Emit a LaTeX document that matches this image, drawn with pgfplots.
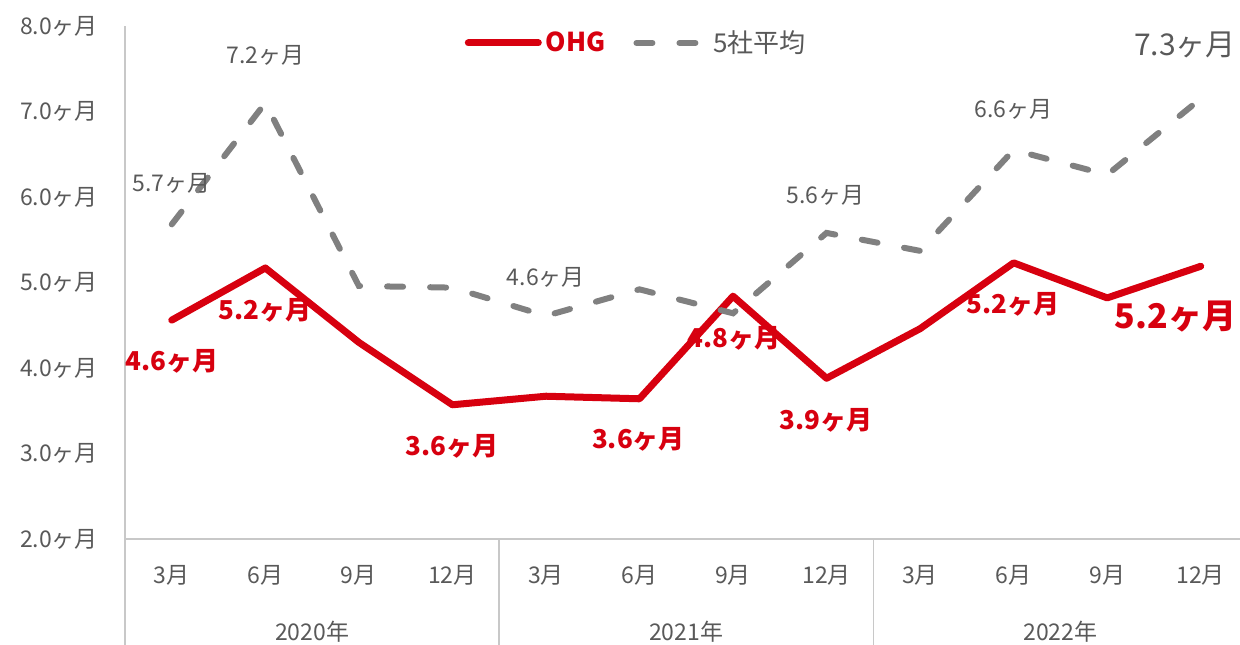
\documentclass[border=0pt]{standalone}
\usepackage{pgfplots}
\pgfplotsset{compat=1.18}
\usepackage{fontspec}
\setmainfont{Noto Sans CJK JP}
\definecolor{ohgred}{HTML}{D7000F}
\definecolor{avggray}{HTML}{808080}
\definecolor{txtgray}{HTML}{595959}
\definecolor{axgray}{HTML}{C8C8C8}
\begin{document}
\begin{tikzpicture}
\useasboundingbox (-62.5pt,-52.5pt) rectangle (557.5pt,269.5pt);
\begin{axis}[
  scale only axis,
  width=557.5pt, height=256.5pt,
  xmin=-0.5, xmax=11.42,
  ymin=2, ymax=8,
  clip=false,
  axis x line=bottom, axis y line=left,
  axis line style={draw=axgray, line width=0.8pt, -},
  major tick length=0pt,
  ytick={2,3,4,5,6,7,8},
  yticklabel={\pgfmathprintnumber[fixed,fixed zerofill,precision=1]{\tick}ヶ月},
  /pgf/number format/assume math mode=true,
  yticklabel style={font=\fontsize{11.5pt}{13pt}\selectfont, text=txtgray, anchor=east, xshift=-10pt},
  xtick={0,1,2,3,4,5,6,7,8,9,10,11},
  xticklabels={3月,6月,9月,12月,3月,6月,9月,12月,3月,6月,9月,12月},
  xticklabel style={font=\fontsize{11.5pt}{13pt}\selectfont, text=txtgray, anchor=center, yshift=-18pt},
  legend columns=2,
  legend style={at={(axis description cs:0.4595,0.967)}, anchor=center, draw=none, fill=none,
    font=\fontsize{13pt}{15pt}\selectfont,
    /tikz/every even column/.append style={column sep=12pt}},
  legend image code/.code={\draw[#1] (0pt,0pt) -- (35pt,0pt);},
]
\addplot[ohgred, line width=3.5pt, line join=round, line cap=round] coordinates {
 (0,4.56) (1,5.17) (2,4.30) (3,3.57) (4,3.67) (5,3.64) (6,4.84) (7,3.88) (8,4.46) (9,5.23) (10,4.82) (11,5.19)};
\addlegendentry{\textcolor{ohgred}{\bfseries OHG}}
\addplot[avggray, line width=3pt, line cap=round, dash pattern=on 8pt off 13.5pt] coordinates {
 (0,5.68) (1,7.10) (2,4.96) (3,4.94) (4,4.61) (5,4.92) (6,4.64) (7,5.58) (8,5.37) (9,6.55) (10,6.26) (11,7.15)};
\addlegendentry{\textcolor{txtgray}{5社平均}}

% gray labels
\begin{scope}[every node/.style={text=txtgray, font=\fontsize{11.5pt}{13pt}\selectfont}]
\node at (axis cs:1.0,7.66) {7.2ヶ月};
\node at (axis cs:0.0,6.16) {5.7ヶ月};
\node at (axis cs:4.0,5.06) {4.6ヶ月};
\node at (axis cs:6.99,6.02) {5.6ヶ月};
\node at (axis cs:9.0,7.02) {6.6ヶ月};
\end{scope}
\node[text=txtgray, font=\fontsize{15pt}{17pt}\selectfont] at (axis cs:10.83,7.78) {7.3ヶ月};
% red labels
\begin{scope}[every node/.style={text=ohgred, font=\fontsize{13pt}{15pt}\selectfont\bfseries}]
\node at (axis cs:0.0,4.08) {4.6ヶ月};
\node at (axis cs:1.0,4.67) {5.2ヶ月};
\node at (axis cs:3.0,3.08) {3.6ヶ月};
\node at (axis cs:4.99,3.16) {3.6ヶ月};
\node at (axis cs:6.01,4.35) {4.8ヶ月};
\node at (axis cs:6.99,3.39) {3.9ヶ月};
\node at (axis cs:8.99,4.74) {5.2ヶ月};
\end{scope}
\node[text=ohgred, font=\fontsize{17pt}{19pt}\selectfont\bfseries] at (axis cs:10.73,4.60) {5.2ヶ月};

% category separators
\draw[axgray, line width=0.8pt] (axis cs:-0.5,2) -- ++(0pt,-60pt);
\draw[axgray, line width=0.8pt] (axis cs:3.5,2) -- ++(0pt,-60pt);
\draw[axgray, line width=0.8pt] (axis cs:7.5,2) -- ++(0pt,-60pt);
% year labels
\begin{scope}[every node/.style={text=txtgray, font=\fontsize{11.5pt}{13pt}\selectfont}]
\node at (axis cs:1.5,2) [yshift=-46.5pt] {2020年};
\node at (axis cs:5.5,2) [yshift=-46.5pt] {2021年};
\node at (axis cs:9.5,2) [yshift=-46.5pt] {2022年};
\end{scope}
\end{axis}
\end{tikzpicture}
\end{document}
